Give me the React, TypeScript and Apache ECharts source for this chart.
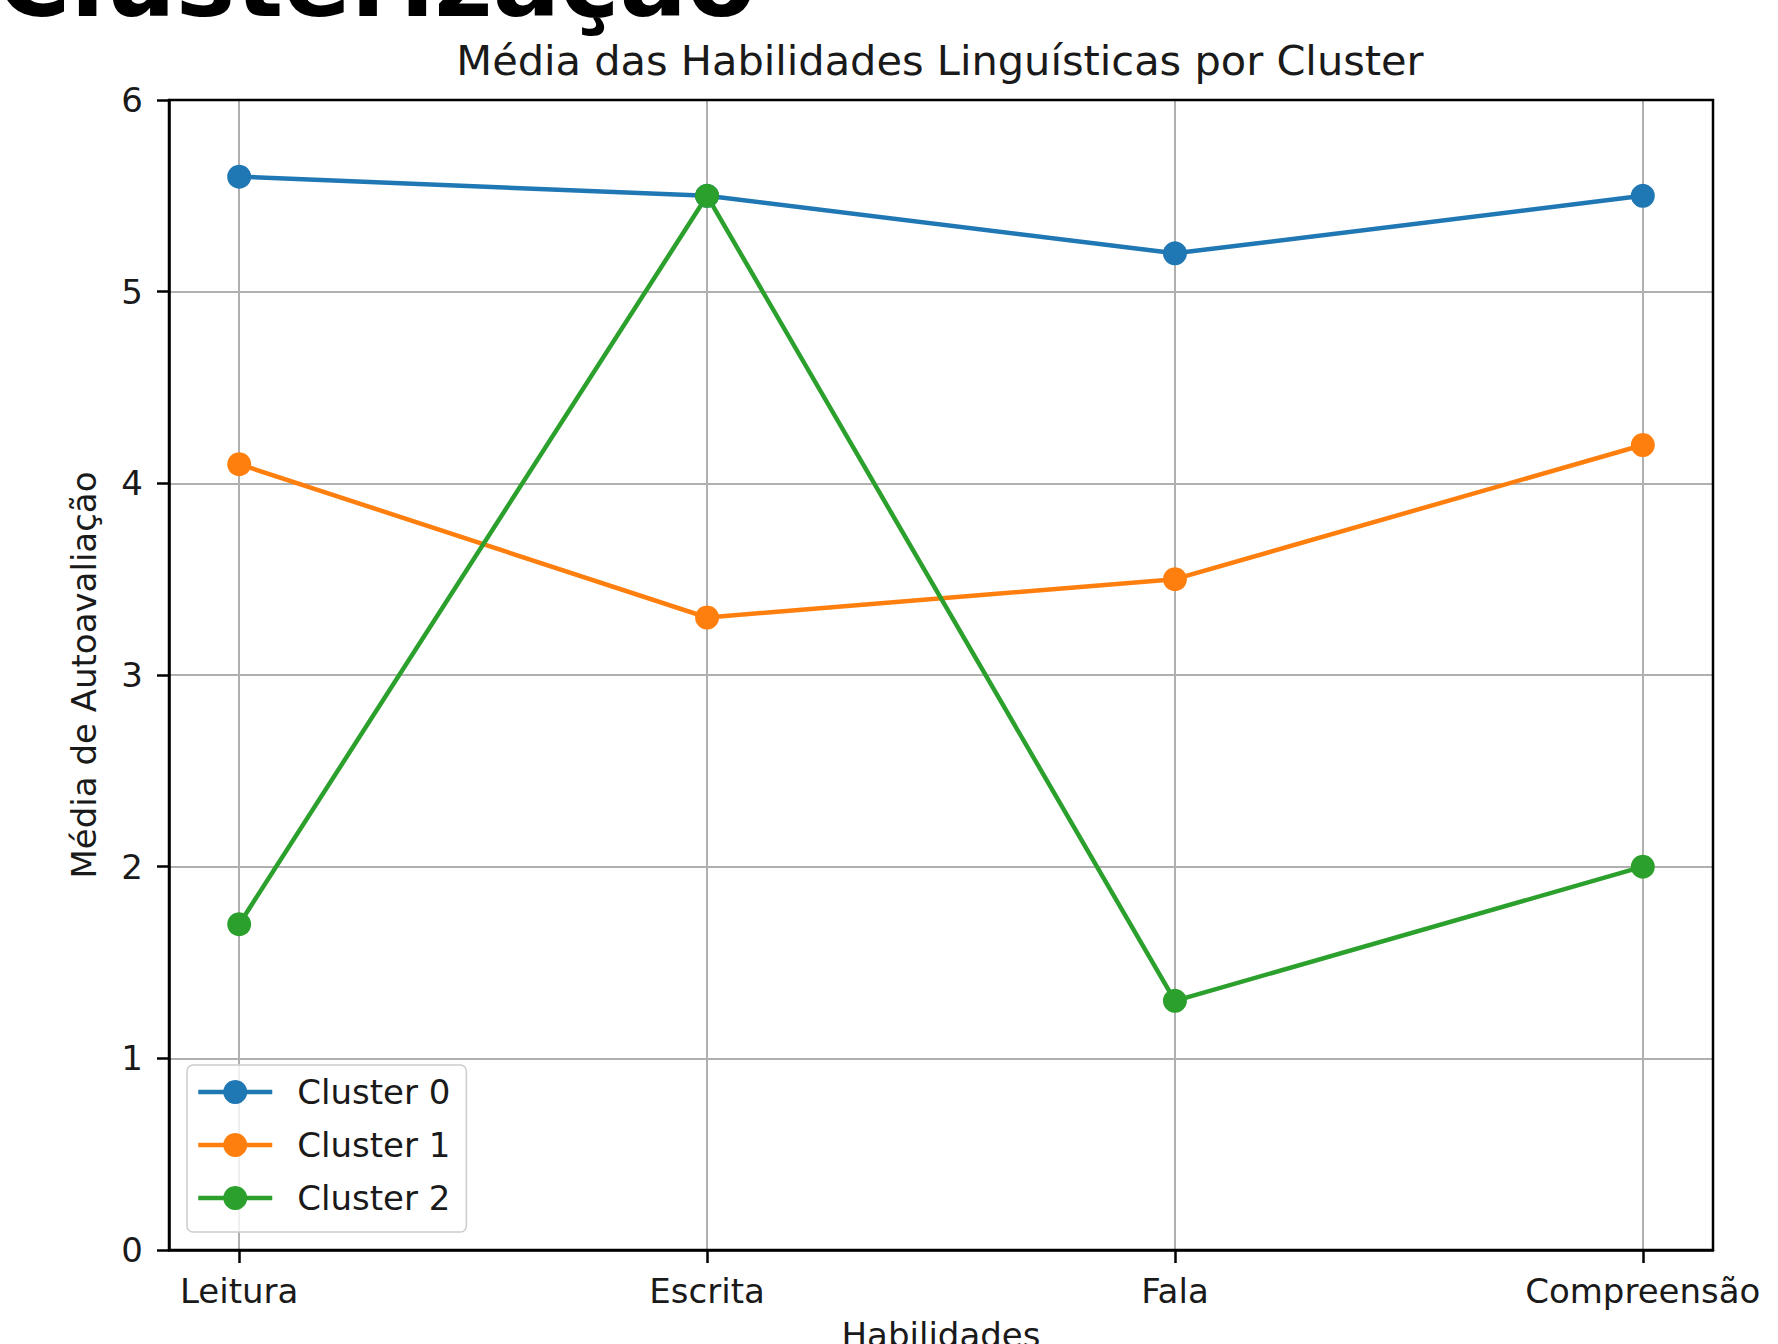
import React, { useEffect, useRef } from "react";
import * as echarts from "echarts";

const categories = ["Leitura", "Escrita", "Fala", "Compreensão"];
const seriesNames = ["Cluster 0", "Cluster 1", "Cluster 2"];
const cluster0 = [5.6, 5.5, 5.2, 5.5];
const cluster1 = [4.1, 3.3, 3.5, 4.2];
const cluster2 = [1.7, 5.5, 1.3, 2.0];
const seriesValues = [cluster0, cluster1, cluster2];
const colors = ["#1f77b4", "#ff7f0e", "#2ca02c"];
const xTickPositions = [0, 1, 2, 3];

const chartTitle = "Média das Habilidades Linguísticas por Cluster";
const pageHeading = "Clusterização";
const xName = "Habilidades";
const yName = "Média de Autoavaliação";

const FONT = "DejaVu Sans";
const TXT = "#1a1a1a";

export default function App() {
  const ref = useRef<HTMLDivElement>(null);
  useEffect(() => {
    if (!ref.current) return;
    const chart = echarts.init(ref.current, null, { renderer: "svg" });
    const option = {
      animation: false,
      backgroundColor: "#ffffff",
      textStyle: { fontFamily: FONT },
      graphic: [
        {
          type: "text",
          x: -3,
          y: -19,
          style: {
            text: pageHeading,
            fontFamily: FONT,
            fontWeight: "bold",
            fontSize: 100,
            fill: "#000",
            align: "left",
            verticalAlign: "middle",
          },
        },
        {
          type: "text",
          x: 940,
          y: 60,
          style: {
            text: chartTitle,
            fontFamily: FONT,
            fontSize: 41.5,
            fill: TXT,
            align: "center",
            verticalAlign: "middle",
          },
        },
      ],
      grid: {
        left: 169,
        right: 65,
        top: 100,
        bottom: 94,
        outerBoundsMode: "none",
        containLabel: false,
        show: true,
        borderColor: "#000",
        borderWidth: 2.5,
        backgroundColor: "transparent",
        z: 3,
      },
      legend: {
        orient: "vertical",
        left: 187,
        top: 1065,
        data: seriesNames,
        itemWidth: 74,
        itemHeight: 30,
        itemGap: 19,
        padding: [10, 16, 17, 9],
        backgroundColor: "rgba(255,255,255,0.8)",
        borderColor: "#cccccc",
        borderWidth: 1.5,
        borderRadius: 6,
        lineStyle: { width: 4.5 },
        textStyle: {
          fontFamily: FONT,
          fontSize: 34,
          color: TXT,
          padding: [0, 0, 0, 20],
        },
      },
      xAxis: {
        type: "value",
        min: -0.15,
        max: 3.15,
        name: xName,
        nameLocation: "middle",
        nameGap: 68,
        nameTextStyle: { fontFamily: FONT, fontSize: 34, color: TXT, verticalAlign: "top" },
        axisLine: { show: true, onZero: false, lineStyle: { color: "#000", width: 2.5 } },
        axisTick: {
          show: true,
          customValues: xTickPositions,
          length: 13,
          lineStyle: { color: "#000", width: 2.5 },
        },
        axisLabel: {
          customValues: xTickPositions,
          formatter: (v: number) => categories[Math.round(v)] ?? "",
          fontFamily: FONT,
          fontSize: 34,
          color: TXT,
          margin: 24,
        },
        splitLine: { show: true, lineStyle: { color: "#b0b0b0", width: 2 } },
      },
      yAxis: {
        type: "value",
        min: 0,
        max: 6,
        interval: 1,
        name: yName,
        nameLocation: "middle",
        nameGap: 68,
        nameRotate: 90,
        nameTextStyle: { fontFamily: FONT, fontSize: 34, color: TXT },
        axisLine: { show: true, onZero: false, lineStyle: { color: "#000", width: 2.5 } },
        axisTick: { show: true, length: 12, lineStyle: { color: "#000", width: 2.5 } },
        axisLabel: { fontFamily: FONT, fontSize: 34, color: TXT, margin: 26 },
        splitLine: {
          show: true,
          showMaxLine: false,
          showMinLine: false,
          lineStyle: { color: "#b0b0b0", width: 2 },
        },
      },
      series: seriesNames.map((name, si) => ({
        name,
        type: "line",
        data: seriesValues[si].map((v, i) => [i, v]),
        symbol: "circle",
        symbolSize: 24,
        color: colors[si],
        itemStyle: { color: colors[si] },
        lineStyle: { color: colors[si], width: 4.5 },
        clip: false,
      })),
    };
    chart.setOption(option as any);
    return () => chart.dispose();
  }, []);
  return (
    <div
      ref={ref}
      style={{ position: "absolute", left: 0, top: 0, width: 1778, height: 1344 }}
    />
  );
}
